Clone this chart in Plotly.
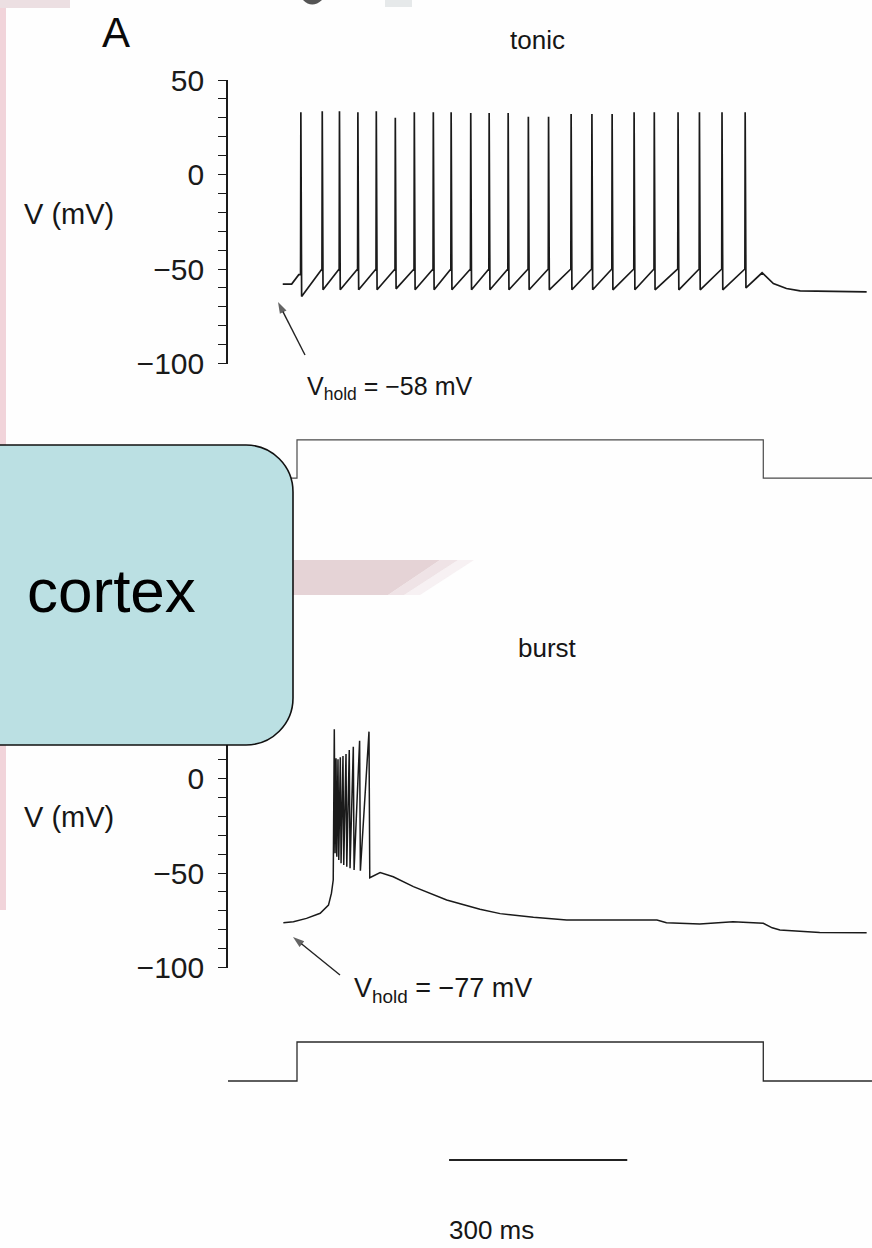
import plotly.graph_objects as go

W, H = 872, 1248


def px(x):
    return x / W


def py(y):
    return 1 - y / H


# ---------------- data ----------------
# tonic firing (V_hold = -58 mV)
tonic_pre_t = [-24, -9, 3]
tonic_pre_v = [-58, -58, -53]
tonic_spike_t = [6, 42, 71, 102, 133, 165, 197, 229, 259, 292, 323, 355,
                 389, 423, 461, 496, 530, 567, 601, 641, 677, 715, 754]
tonic_peak_v = [33, 33.5, 33.5, 33, 33.5, 30, 33, 33, 33, 32.5, 32.5, 32.5,
                30.5, 30.5, 32, 32, 32, 33, 33, 33, 33, 33, 33]
tonic_thresh_v = [-53, -50, -50, -50, -50, -50, -50, -50, -50, -50, -50, -50,
                  -50, -50, -50, -50, -50, -50, -50, -50, -50, -50, -50]
tonic_trough_v = [-64.5, -61, -61, -61, -61, -60.5, -61, -61, -61, -61, -61, -61,
                  -61, -61, -61, -61, -61, -61, -61, -61, -61, -61, -60]
tonic_post_t = [783, 802, 824, 847, 959]
tonic_post_v = [-52, -57.7, -60.3, -61.6, -62.1]

# burst firing (V_hold = -77 mV)
burst_pre_t = [-23, -6, 16, 39, 53, 58, 61]
burst_pre_v = [-76.3, -75.8, -74, -71.3, -67, -60.7, -53.7]
burst_spike_t = [62.3, 65.2, 68.5, 72.4, 76.9, 82, 87.5, 94.3, 104.9, 120.7]
burst_peak_v = [26, 10.7, 10.2, 11.2, 11.9, 13, 15.1, 16.8, 20, 24.8]
burst_trough_v = [-39.6, -41.4, -43.1, -44.9, -45.8, -46.7, -47.5, -48.4, -48.8, -52.5]
burst_post_t = [140, 162, 196, 252, 308, 342, 398, 454, 530, 606, 622, 678,
                734, 785, 800, 813, 880, 959]
burst_post_v = [-49.8, -52, -57.2, -64.3, -69.2, -71.5, -73.4, -74.9, -75, -74.9,
                -76.3, -77, -75.8, -76.6, -79, -80.2, -81.5, -81.6]

# current step (relative amplitude)
stim_t = [-117, 0, 0, 785, 785, 968]
stim_i = [0, 0, 1, 1, 0, 0]

scale_bar_ms = 300
scale_bar_start = 256

v_tickvals = [-100, -50, 0, 50]
v_ticktext = ["\u2212100", "\u221250", "0", "50"]

# ---------------- build traces ----------------


def spike_train(pre_t, pre_v, sp_t, peak, thresh, trough, post_t, post_v):
    t, v = list(pre_t), list(pre_v)
    for i, ts in enumerate(sp_t):
        if thresh is not None:
            t.append(ts)
            v.append(thresh[i])
        t += [ts + 0.5, ts + 1.8]
        v += [peak[i], trough[i]]
    return t + list(post_t), v + list(post_v)


tonic_t, tonic_v = spike_train(tonic_pre_t, tonic_pre_v, tonic_spike_t,
                               tonic_peak_v, tonic_thresh_v, tonic_trough_v,
                               tonic_post_t, tonic_post_v)
burst_t, burst_v = spike_train(burst_pre_t, burst_pre_v, burst_spike_t,
                               burst_peak_v, None, burst_trough_v,
                               burst_post_t, burst_post_v)

ink = "#1a1a1a"
font = "Liberation Sans, Arial, sans-serif"

fig = go.Figure()
fig.add_trace(go.Scatter(x=tonic_t, y=tonic_v, mode="lines", xaxis="x", yaxis="y",
                         line=dict(color=ink, width=1.7), hoverinfo="skip"))
fig.add_trace(go.Scatter(x=stim_t, y=stim_i, mode="lines", xaxis="x", yaxis="y3",
                         line=dict(color="#4a4a4a", width=1.2), hoverinfo="skip"))
fig.add_trace(go.Scatter(x=burst_t, y=burst_v, mode="lines", xaxis="x2", yaxis="y2",
                         line=dict(color=ink, width=1.5), hoverinfo="skip"))
fig.add_trace(go.Scatter(x=stim_t, y=stim_i, mode="lines", xaxis="x2", yaxis="y4",
                         line=dict(color="#2a2a2a", width=1.3), hoverinfo="skip"))

# arrows pointing at the holding potential, on a full-page pixel overlay
for (tx, ty), (hx, hy) in [((305, 355), (278, 302)), ((340, 975), (293, 937))]:
    fig.add_trace(go.Scatter(x=[tx, hx], y=[ty, hy], mode="lines+markers",
                             xaxis="x3", yaxis="y5", hoverinfo="skip",
                             line=dict(color="#222222", width=1.4),
                             marker=dict(symbol="arrow", angleref="previous",
                                         size=[0, 12], color="#222222",
                                         line=dict(width=0))))

# time axis: stimulus onset at x=297 px, 0.594 px per ms
ms_px = 0.594
t_lo = (228 - 297) / ms_px
t_hi = (W - 297) / ms_px
xdom = [px(228), 1.0]

vaxis = dict(range=[-100, 50], showline=True, linecolor=ink, linewidth=1.6,
             ticks="outside", ticklen=8, tickwidth=1.3, tickcolor=ink,
             tickmode="array", tickvals=v_tickvals, ticktext=v_ticktext,
             minor=dict(dtick=10, tick0=0, ticks="outside", ticklen=8,
                        tickwidth=1.2, tickcolor=ink, showgrid=False),
             tickfont=dict(family=font, size=30, color="#1a1a1a"),
             ticklabelstandoff=8, showgrid=False, zeroline=False, automargin=False)
hidden = dict(visible=False, showgrid=False, zeroline=False, automargin=False)

pad = 0.1026
fig.update_layout(
    template="none",
    width=W, height=H, autosize=False,
    margin=dict(l=0, r=0, t=0, b=0, pad=0, autoexpand=False),
    paper_bgcolor="#fefefe", plot_bgcolor="rgba(0,0,0,0)", showlegend=False,
    xaxis=dict(domain=xdom, range=[t_lo, t_hi], anchor="y", **hidden),
    xaxis2=dict(domain=xdom, range=[t_lo, t_hi], anchor="y2", **hidden),
    xaxis3=dict(domain=[0, 1], range=[0, W], anchor="y5", **hidden),
    yaxis=dict(domain=[py(363.5), py(80)], anchor="x", **vaxis),
    yaxis2=dict(domain=[py(967.5), py(684)], anchor="x2", **vaxis),
    yaxis3=dict(domain=[py(482), py(436)], range=[-pad, 1 + pad], anchor="x", **hidden),
    yaxis4=dict(domain=[py(1085), py(1038)], range=[-pad, 1 + pad], anchor="x2", **hidden),
    yaxis5=dict(domain=[0, 1], range=[H, 0], anchor="x3", **hidden),
)

shapes = []
# slide background remnants
shapes.append(dict(type="rect", xref="paper", yref="paper", x0=0, x1=px(6),
                   y0=py(910), y1=1, fillcolor="#f1d4da", line_width=0, layer="below"))
shapes.append(dict(type="rect", xref="paper", yref="paper", x0=0, x1=px(70),
                   y0=py(8), y1=1, fillcolor="#ecdfe2", line_width=0, layer="below"))
shapes.append(dict(type="path", xref="paper", yref="paper", layer="below",
                   path=f"M{px(303)},{py(0)} Q{px(312)},{py(9)} {px(322)},{py(0)} Z",
                   fillcolor="#555555", line_width=0))
shapes.append(dict(type="rect", xref="paper", yref="paper", x0=px(385), x1=px(412),
                   y0=py(7), y1=1, fillcolor="#e6e9ea", line_width=0, layer="below"))
# faded pink band beside the box
band = [(440, 388, "rgba(226,206,210,0.9)"), (458, 404, "rgba(232,215,219,0.7)"),
        (474, 420, "rgba(240,228,231,0.5)")]
prev_top, prev_bot = 293, 293
for top_x, bot_x, col in band:
    shapes.append(dict(type="path", xref="paper", yref="paper", layer="below",
                       path=(f"M{px(prev_top)},{py(560)} L{px(top_x)},{py(560)} "
                             f"L{px(bot_x)},{py(595)} L{px(prev_bot)},{py(595)} Z"),
                       fillcolor=col, line_width=0))
    prev_top, prev_bot = top_x, bot_x

# rounded "cortex" box
r, k = 47, 0.5523
bx0, bx1, by0, by1 = -10, 293, 445, 745
box_path = (
    f"M{px(bx0)},{py(by0)} L{px(bx1 - r)},{py(by0)} "
    f"C{px(bx1 - r + k * r)},{py(by0)} {px(bx1)},{py(by0 + r - k * r)} {px(bx1)},{py(by0 + r)} "
    f"L{px(bx1)},{py(by1 - r)} "
    f"C{px(bx1)},{py(by1 - r + k * r)} {px(bx1 - r + k * r)},{py(by1)} {px(bx1 - r)},{py(by1)} "
    f"L{px(bx0)},{py(by1)} Z"
)
shapes.append(dict(type="path", xref="paper", yref="paper", layer="above",
                   path=box_path, fillcolor="#bbe0e3",
                   line=dict(color="#111111", width=1.6)))

# time scale bar
shapes.append(dict(type="line", xref="x2", yref="paper",
                   x0=scale_bar_start, x1=scale_bar_start + scale_bar_ms,
                   y0=py(1160), y1=py(1160), line=dict(color="#222222", width=2)))
fig.update_layout(shapes=shapes)

ann = []


def label(text, x, y, size, xanchor="center", yanchor="middle", color="#161616"):
    ann.append(dict(text=text, x=px(x), y=py(y), xref="paper", yref="paper",
                    showarrow=False, xanchor=xanchor, yanchor=yanchor,
                    font=dict(family=font, size=size, color=color)))


label("A", 116, 32, 42, color="#0a0a0a")
label("tonic", 537, 40, 26)
label("burst", 547, 648, 26)
label("V (mV)", 22, 214, 29, xanchor="left")
label("V (mV)", 22, 817, 29, xanchor="left")
label("V<sub>hold</sub> = \u221258 mV", 305, 388, 25, xanchor="left")
label("V<sub>hold</sub> = \u221277 mV", 352, 990, 27, xanchor="left")
label(f"{scale_bar_ms} ms", 491, 1230, 26)
label("cortex", 25, 590, 62, xanchor="left", color="#000000")

fig.update_layout(annotations=ann)
fig.write_html("out.html")
